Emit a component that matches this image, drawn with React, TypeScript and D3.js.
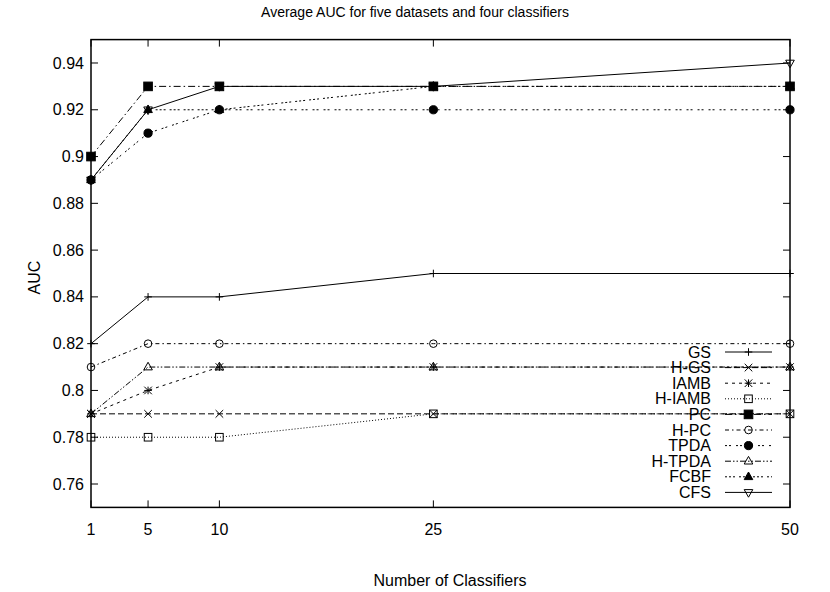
import React from "react";
import * as d3 from "d3";

// Number of classifiers in the ensemble (x axis)
const classifierCounts = [1, 5, 10, 25, 50];
const xTickLabels = ["1", "5", "10", "25", "50"];

// AUC axis ticks
const yTicks = [0.76, 0.78, 0.8, 0.82, 0.84, 0.86, 0.88, 0.9, 0.92, 0.94];
const yTickLabels = ["0.76", "0.78", "0.8", "0.82", "0.84", "0.86", "0.88", "0.9", "0.92", "0.94"];

// Average AUC per feature-selection method
const seriesNames = ["GS", "H-GS", "IAMB", "H-IAMB", "PC", "H-PC", "TPDA", "H-TPDA", "FCBF", "CFS"];
const gsAuc = [0.82, 0.84, 0.84, 0.85, 0.85];
const hGsAuc = [0.79, 0.79, 0.79, 0.79, 0.79];
const iambAuc = [0.79, 0.8, 0.81, 0.81, 0.81];
const hIambAuc = [0.78, 0.78, 0.78, 0.79, 0.79];
const pcAuc = [0.9, 0.93, 0.93, 0.93, 0.93];
const hPcAuc = [0.81, 0.82, 0.82, 0.82, 0.82];
const tpdaAuc = [0.89, 0.91, 0.92, 0.92, 0.92];
const hTpdaAuc = [0.79, 0.81, 0.81, 0.81, 0.81];
const fcbfAuc = [0.89, 0.92, 0.92, 0.93, 0.93];
const cfsAuc = [0.89, 0.92, 0.93, 0.93, 0.94];

const seriesValues = [gsAuc, hGsAuc, iambAuc, hIambAuc, pcAuc, hPcAuc, tpdaAuc, hTpdaAuc, fcbfAuc, cfsAuc];

// gnuplot-like line types and point types, in key order
const dashes = [
  "none",
  "6,3",
  "3,4",
  "1,2",
  "7,3,1.5,3",
  "4,3,1.5,3",
  "2,2,2,5",
  "6,2,1.5,2,1.5,2",
  "2,2,2,2,2,4",
  "none",
];
const pointTypes = [
  "plus",
  "cross",
  "star",
  "boxOpen",
  "boxFilled",
  "circleOpen",
  "circleFilled",
  "triOpen",
  "triFilled",
  "triDownOpen",
];

const FONT = "'Liberation Sans', Arial, Helvetica, sans-serif";

function Marker({ type, cx, cy }: { type: string; cx: number; cy: number }) {
  const s = 3.8;
  const common = { stroke: "#000", strokeWidth: 1 };
  switch (type) {
    case "plus":
      return <path d={`M${cx - s},${cy}H${cx + s}M${cx},${cy - s}V${cy + s}`} fill="none" {...common} />;
    case "cross":
      return (
        <path
          d={`M${cx - s},${cy - s}L${cx + s},${cy + s}M${cx - s},${cy + s}L${cx + s},${cy - s}`}
          fill="none"
          {...common}
        />
      );
    case "star":
      return (
        <path
          d={`M${cx - s},${cy}H${cx + s}M${cx},${cy - s}V${cy + s}M${cx - s},${cy - s}L${cx + s},${cy + s}M${cx - s},${cy + s}L${cx + s},${cy - s}`}
          fill="none"
          {...common}
        />
      );
    case "boxOpen":
      return <rect x={cx - s} y={cy - s} width={2 * s} height={2 * s} fill="none" {...common} />;
    case "boxFilled":
      return <rect x={cx - s - 0.5} y={cy - s - 0.5} width={2 * s + 1} height={2 * s + 1} fill="#000" {...common} />;
    case "circleOpen":
      return <circle cx={cx} cy={cy} r={s} fill="none" {...common} />;
    case "circleFilled":
      return <circle cx={cx} cy={cy} r={s + 0.3} fill="#000" {...common} />;
    case "triOpen":
      return <path d={`M${cx},${cy - s - 1}L${cx + s + 0.5},${cy + s - 1}L${cx - s - 0.5},${cy + s - 1}Z`} fill="none" {...common} />;
    case "triFilled":
      return <path d={`M${cx},${cy - s - 1}L${cx + s + 0.5},${cy + s - 1}L${cx - s - 0.5},${cy + s - 1}Z`} fill="#000" {...common} />;
    case "triDownOpen":
      return <path d={`M${cx},${cy + s + 1}L${cx + s + 0.5},${cy - s + 1}L${cx - s - 0.5},${cy - s + 1}Z`} fill="none" {...common} />;
    default:
      return null;
  }
}

export default function App() {
  const width = 830;
  const height = 592;
  const left = 91;
  const right = 790;
  const top = 39.6;
  const bottom = 507.4;

  const x = d3.scaleLinear().domain([1, 50]).range([left, right]);
  const y = d3.scaleLinear().domain([0.75, 0.95]).range([bottom, top]);
  const line = d3
    .line<number>()
    .x((_, i) => x(classifierCounts[i]))
    .y((d) => y(d));

  const tickLen = 7;

  // key layout
  const keyTextX = 711;
  const keyLineX0 = 725;
  const keyLineX1 = 772;
  const keyY0 = 352;
  const keyStep = 15.6;

  return (
    <svg
      width={width}
      height={height}
      style={{ position: "fixed", left: 0, top: 0, background: "#fff" }}
      fontFamily={FONT}
    >
      <rect width={width} height={height} fill="#fff" />

      {/* title */}
      <text x={415} y={17} textAnchor="middle" fontSize={14} fill="#000">
        Average AUC for five datasets and four classifiers
      </text>

      {/* y ticks and labels */}
      {yTicks.map((t, i) => (
        <g key={"y" + t}>
          <line x1={left} x2={left + tickLen} y1={y(t)} y2={y(t)} stroke="#000" />
          <line x1={right} x2={right - tickLen} y1={y(t)} y2={y(t)} stroke="#000" />
          <text x={left - 7} y={y(t) + 5.6} textAnchor="end" fontSize={16} fill="#000">
            {yTickLabels[i]}
          </text>
        </g>
      ))}

      {/* x ticks and labels */}
      {classifierCounts.map((c, i) => (
        <g key={"x" + c}>
          <line x1={x(c)} x2={x(c)} y1={bottom} y2={bottom - tickLen} stroke="#000" />
          <line x1={x(c)} x2={x(c)} y1={top} y2={top + tickLen} stroke="#000" />
          <text x={x(c)} y={bottom + 27.5} textAnchor="middle" fontSize={16} fill="#000">
            {xTickLabels[i]}
          </text>
        </g>
      ))}

      {/* axis titles */}
      <text
        transform={`translate(40,${(top + bottom) / 2 + 4}) rotate(-90)`}
        textAnchor="middle"
        fontSize={16}
        fill="#000"
      >
        AUC
      </text>
      <text x={450} y={585.5} textAnchor="middle" fontSize={16} fill="#000">
        Number of Classifiers
      </text>

      {/* key */}
      {seriesNames.map((name, i) => {
        const ky = keyY0 + i * keyStep;
        return (
          <g key={"k" + name}>
            <text x={keyTextX} y={ky + 5.6} textAnchor="end" fontSize={16} fill="#000">
              {name}
            </text>
            <line
              x1={keyLineX0}
              x2={keyLineX1}
              y1={ky}
              y2={ky}
              stroke="#000"
              strokeWidth={1}
              strokeDasharray={dashes[i]}
            />
            <Marker type={pointTypes[i]} cx={(keyLineX0 + keyLineX1) / 2} cy={ky} />
          </g>
        );
      })}

      {/* series */}
      {seriesValues.map((vals, i) => (
        <g key={"s" + seriesNames[i]}>
          <path d={line(vals) || ""} fill="none" stroke="#000" strokeWidth={1} strokeDasharray={dashes[i]} />
          {vals.map((v, j) => (
            <Marker key={j} type={pointTypes[i]} cx={x(classifierCounts[j])} cy={y(v)} />
          ))}
        </g>
      ))}

      {/* frame */}
      <rect x={left} y={top} width={right - left} height={bottom - top} fill="none" stroke="#000" strokeWidth={1.5} />
    </svg>
  );
}
